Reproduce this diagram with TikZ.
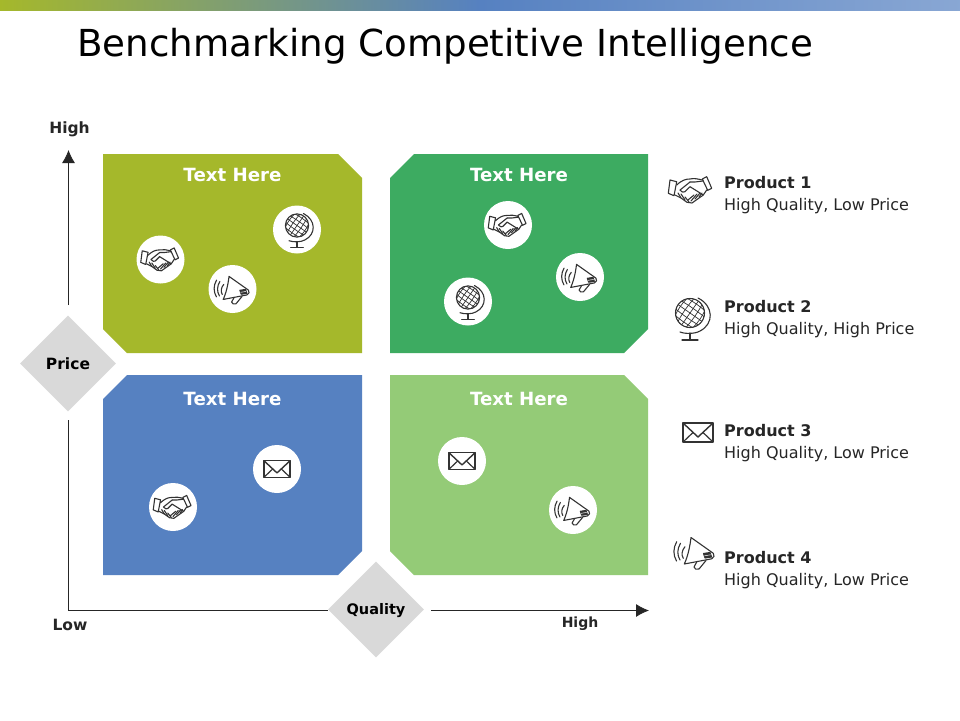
\documentclass[tikz,border=0pt]{standalone}
\usepackage{fontspec}
\setmainfont{DejaVu Sans}
\usetikzlibrary{arrows.meta,shapes.geometric}
\definecolor{qa}{HTML}{A5B82B}
\definecolor{qb}{HTML}{3DAB61}
\definecolor{qc}{HTML}{5681C1}
\definecolor{qd}{HTML}{94CB77}
\definecolor{dia}{HTML}{D9D9D9}
\definecolor{ink}{HTML}{262626}
\definecolor{ic}{HTML}{333333}
\tikzset{
  x=1pt,y=-1pt,
  badge/.style={circle,fill=white,draw=none,minimum size=48pt,inner sep=0pt},
  headtxt/.style={text=white,font=\fontsize{18.2}{20}\selectfont\bfseries,inner sep=0pt},
  axistxt/.style={text=ink,font=\fontsize{15.5}{17}\selectfont\bfseries,inner sep=0pt},
  prodname/.style={text=ink,font=\fontsize{16}{18}\selectfont\bfseries,inner sep=0pt,anchor=west},
  proddesc/.style={text=ink,font=\fontsize{16}{18}\selectfont,inner sep=0pt,anchor=west},
  dianode/.style={diamond,fill=dia,aspect=1,inner sep=0pt,minimum size=96pt,text=black,font=\fontsize{15.5}{17}\selectfont\bfseries},
  axisline/.style={draw=ink,line width=0.8pt,-{Latex[length=13pt,width=13pt]}},
  iconline/.style={draw=ic,line width=1.1pt,line join=round,line cap=round,fill=none},
  handshake/.pic={
    \draw[iconline] (-21,-10) -- (-14.3,-8.3) -- (-17,5.7) -- (-22.7,3.3) -- cycle;
    \draw[iconline] (15.7,-13.3) -- (20.7,-1.7) -- (16.7,.3) -- (11.3,-11) -- cycle;
    \draw[iconline] (-14.3,-5) .. controls (-9,-10) and (-5,-11) .. (-1,-11) .. controls (3,-12) and (7,-11) .. (11.3,-10);
    \draw[iconline] (-1,-8) -- (-11,0) .. controls (-9,2.5) and (-7,2.5) .. (-6,1.7) -- (-1,-3.3) -- (12.3,5) -- (15.7,0);
    \draw[iconline] (-1,-8) -- (4,-8) -- (12,-9);
    \draw[iconline] (-16,5) -- (-10,8) -- (-4,12.3) -- (1,13) -- (12.3,5);
    \draw[iconline] (-13,3) -- (-10,8);
    \draw[iconline] (-10,4) -- (-6,10);
    \draw[iconline] (-6,7) -- (-2,12);
    \draw[iconline] (-3,10) -- (3,5);
    \draw[iconline] (0,11) -- (6,4);
    \draw[iconline] (4,9) -- (9,3);
    \draw[iconline] (8,7) -- (11,3);
  },
  globe/.pic={
    \draw[iconline] (0,-5) circle (14.5);
    \begin{scope}
      \clip (0,-5) circle (14.5);
      \foreach \k in {-13,-9,-4.5,0,4.5,9,13}{
        \draw[iconline,line width=0.7pt,rotate around={-35:(0,-5)}] (\k,-22) .. controls (\k*1.4,-12) and (\k*1.4,2) .. (\k,12);
        \draw[iconline,line width=0.7pt,rotate around={-35:(0,-5)}] (-18,\k-5) .. controls (-8,\k*1.3-5) and (8,\k*1.3-5) .. (18,\k-5);
      }
    \end{scope}
    \draw[iconline] (8,-20) .. controls (24,-12) and (24,6) .. (10,13) .. controls (5,16) and (-5,16) .. (-10,14);
    \draw[iconline] (0,15) -- (0,22);
    \draw[iconline] (-8,22) -- (8,22);
  },
  envelope/.pic={
    \draw[iconline,line width=1.2pt] (-15,-9.5) rectangle (15,9.5);
    \draw[iconline,line width=1.4pt] (-15,-9.5) -- (0,4.5) -- (15,-9.5);
    \draw[iconline,line width=1.2pt] (-15,9.5) -- (-5,0);
    \draw[iconline,line width=1.2pt] (15,9.5) -- (5,0);
  },
  megaphone/.pic={
    \draw[iconline] (-4,-14.5) -- (18.3,1.3) .. controls (20,3) and (19,6) .. (16.7,6.8) -- (-10.7,12) .. controls (-7,4) and (-5,-6) .. (-4,-14.5) -- cycle;
    \draw[iconline] (1.7,10) -- (-1,15) .. controls (-1,17) and (2,18) .. (4,17) -- (11,8.5);
    \draw[iconline,fill=ic] (8.5,1.5) -- (15,.5) -- (16.5,5) -- (10,6) -- cycle;
    \draw[iconline,draw=white,line width=0.5pt] (9.5,3.8) -- (15.5,2.8);
    \draw[iconline] (-10,-5.3) .. controls (-13,-2) and (-14,3) .. (-11.7,6.3);
    \draw[iconline] (-14.5,-8.7) .. controls (-18,-3) and (-18,3) .. (-15,8);
    \draw[iconline] (-18.3,-10.3) .. controls (-22,-4) and (-22,3) .. (-18.5,9);
  },
}
\begin{document}
\begin{tikzpicture}
\useasboundingbox (0,0) rectangle (960,720);
\fill[white] (0,0) rectangle (960,720);
\fill[left color=qa,right color=qc] (0,0) rectangle (480,10);
\fill[left color=qc,right color=qc!70!white] (480,0) rectangle (960,10);
\node[anchor=west,inner sep=0pt,text=black,font=\fontsize{37.2}{42}\selectfont] (title) at (77,46) {Benchmarking Competitive Intelligence};

% quadrants
\fill[qa] (103,154) -- (338,154) -- (362,178) -- (362,353) -- (127,353) -- (103,329) -- cycle;
\fill[qb] (414,154) -- (648,154) -- (648,329) -- (624,353) -- (390,353) -- (390,178) -- cycle;
\fill[qc] (127,375) -- (362,375) -- (362,551) -- (338,575) -- (103,575) -- (103,399) -- cycle;
\fill[qd] (390,375) -- (624,375) -- (648,399) -- (648,575) -- (414,575) -- (390,551) -- cycle;
\node[headtxt] (ha) at (232.5,174.5) {Text Here};
\node[headtxt] (hb) at (519,174.5) {Text Here};
\node[headtxt] (hc) at (232.5,398.5) {Text Here};
\node[headtxt] (hd) at (519,398.5) {Text Here};

% axes
\node[dianode] (price) at (68,363.5) {\raisebox{-5.5pt}[0pt][0pt]{Price}};
\node[dianode,font=\fontsize{14.5}{17}\selectfont\bfseries] (quality) at (376,609.5) {\raisebox{-4.5pt}[0pt][0pt]{Quality}};
\node[axistxt] (hy) at (69.5,129.5) {High};
\node[axistxt] (lo) at (70,624.5) {Low};
\node[axistxt,font=\fontsize{14}{16}\selectfont\bfseries] (hx) at (580,623.5) {High};
\coordinate (ytop) at (68.5,150);
\coordinate (ycorner) at (68.5,610.5);
\coordinate (xend) at (649,610.5);
\draw[axisline] (68.5,305) -- (ytop);
\draw[draw=ink,line width=0.8pt] (68.5,420) -- (ycorner) -- (328,610.5);
\draw[axisline] (431,610.5) -- (xend);

% badges
\node[badge] (b1) at (160.5,259.5) {};
\pic[scale=.87] at (b1) {handshake};
\node[badge] (b2) at (232.5,289) {};
\pic[scale=.87] at (b2) {megaphone};
\node[badge] (b3) at (297,229.5) {};
\pic[scale=.8] at (b3) {globe};
\node[badge] (b4) at (508,225) {};
\pic[scale=.87] at (b4) {handshake};
\node[badge] (b5) at (580,277) {};
\pic[scale=.87] at (b5) {megaphone};
\node[badge] (b6) at (468,301.5) {};
\pic[scale=.8] at (b6) {globe};
\node[badge] (b7) at (277,469) {};
\pic[scale=.87] at (b7) {envelope};
\node[badge] (b8) at (173,507) {};
\pic[scale=.87] at (b8) {handshake};
\node[badge] (b9) at (462,461) {};
\pic[scale=.87] at (b9) {envelope};
\node[badge] (b10) at (573,510) {};
\pic[scale=.87] at (b10) {megaphone};

% legend
\pic at (691,190) {handshake};
\pic at (690,318) {globe};
\pic at (698,432.5) {envelope};
\pic at (695,552) {megaphone};
\node[prodname] (p1) at (724,182.5) {Product 1};
\node[proddesc] (d1) at (724,206.5) {High Quality, Low Price};
\node[prodname] (p2) at (724,306.5) {Product 2};
\node[proddesc] (d2) at (724,330.5) {High Quality, High Price};
\node[prodname] (p3) at (724,430.5) {Product 3};
\node[proddesc] (d3) at (724,454.5) {High Quality, Low Price};
\node[prodname] (p4) at (724,557.5) {Product 4};
\node[proddesc] (d4) at (724,581.5) {High Quality, Low Price};
\end{tikzpicture}
\end{document}
